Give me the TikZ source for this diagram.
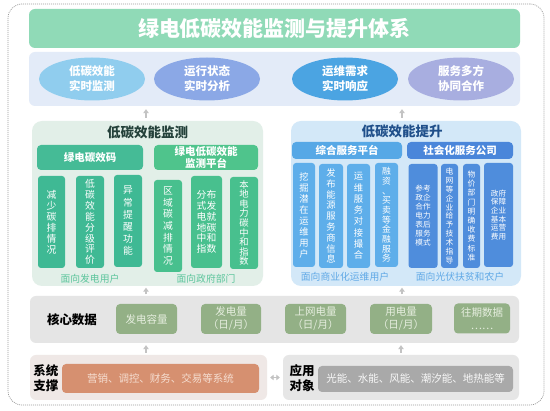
\documentclass[tikz,border=0pt]{standalone}
\usepackage{fontspec}
\setmainfont{Noto Sans CJK SC}
\usetikzlibrary{arrows.meta,shapes.geometric}
\definecolor{framegrey}{HTML}{9A9A9A}
\definecolor{titlegreen}{HTML}{90DAB7}
\definecolor{bandblue}{HTML}{E3EBF8}
\definecolor{ellA}{HTML}{90CDEE}
\definecolor{ellB}{HTML}{8BA8E6}
\definecolor{ellC}{HTML}{4BA4E2}
\definecolor{ellD}{HTML}{A8AEE0}
\definecolor{greenbg}{HTML}{E2EFE8}
\definecolor{greenhdA}{HTML}{45BB96}
\definecolor{greenhdB}{HTML}{4FC48C}
\definecolor{greencolA}{HTML}{3FB994}
\definecolor{greencolB}{HTML}{48C08E}
\definecolor{greenlabel}{HTML}{5CC59C}
\definecolor{greentitle}{HTML}{24413A}
\definecolor{bluebg}{HTML}{D3E8F8}
\definecolor{bluehdA}{HTML}{56A8E6}
\definecolor{bluehdB}{HTML}{4A86DA}
\definecolor{bluecolA}{HTML}{5EAEEA}
\definecolor{bluecolB}{HTML}{4F8DDC}
\definecolor{bluelabel}{HTML}{5FA8E6}
\definecolor{bluetitle}{HTML}{1F4F8A}
\definecolor{coregrey}{HTML}{E5E5E5}
\definecolor{databox}{HTML}{93B086}
\definecolor{datatext}{HTML}{E6EEDF}
\definecolor{supbg}{HTML}{EFE8E6}
\definecolor{orangebox}{HTML}{D69070}
\definecolor{orangetext}{HTML}{F5DDD0}
\definecolor{appgrey}{HTML}{E6E6E6}
\definecolor{greybox}{HTML}{A9A9A9}
\definecolor{arrowgrey}{HTML}{C3C3C3}
\tikzset{
  rbox/.style={rectangle, inner sep=0pt, align=center, rounded corners=4pt},
  ell/.style={ellipse, inner sep=0pt, minimum width=106, minimum height=43, align=center, text=white, font=\bfseries\fontsize{11.5}{15}\selectfont},
  hdr/.style={rbox, text=white, font=\bfseries\fontsize{10.5}{13}\selectfont},
  gcol/.style={rbox, rounded corners=3pt, text=white, minimum height=92},
  bcol/.style={rbox, rounded corners=3pt, text=white, minimum height=104},
  dbox/.style={rbox, fill=databox, text=datatext, minimum height=30, font=\fontsize{10.5}{13}\selectfont},
  uparr/.style={draw=arrowgrey, line width=1.7pt, -{Triangle[width=5.5pt,length=4pt]}, shorten <=1.5pt, shorten >=1.5pt},
  dblarr/.style={draw=arrowgrey, line width=1.7pt, {Triangle[width=5.5pt,length=3.5pt]}-{Triangle[width=5.5pt,length=3.5pt]}, shorten <=3pt, shorten >=3pt},
  ptitle/.style={inner sep=0pt, font=\bfseries\fontsize{13.5}{16}\selectfont},
  plabel/.style={inner sep=0pt, font=\fontsize{9.8}{12}\selectfont},
  sidelabel/.style={inner sep=0pt, align=center, font=\bfseries\fontsize{12.5}{15}\selectfont}
}
\begin{document}
\begin{tikzpicture}[x=1pt,y=-1pt]
\useasboundingbox (0,0) rectangle (550,411);
\fill[white] (0,0) rectangle (550,411);
% frame
\node[rectangle, draw=framegrey, line width=0.7pt, dash pattern=on 1pt off 1pt, rounded corners=14pt, minimum width=536, minimum height=401, inner sep=0pt] (frame) at (276,204.5) {};
% title
\node[rbox, rounded corners=6pt, fill=titlegreen, minimum width=491, minimum height=39, text=white, font=\bfseries\fontsize{21}{24}\selectfont] (title) at (274.5,28.5) {绿电低碳效能监测与提升体系};
% band with ellipses
\node[rbox, rounded corners=6pt, fill=bandblue, minimum width=491, minimum height=54] (band) at (274.5,79) {};
\node[ell, fill=ellA] (e1) at (92,79) {低碳效能\\实时监测};
\node[ell, fill=ellB] (e2) at (207,79) {运行状态\\实时分析};
\node[ell, fill=ellC] (e3) at (345,79) {运维需求\\实时响应};
\node[ell, fill=ellD] (e4) at (461,79) {服务多方\\协同合作};
% green panel
\node[rbox, rounded corners=10pt, fill=greenbg, minimum width=231, minimum height=165] (gp) at (147.5,203.5) {};
\node[ptitle, text=greentitle] (gt) at (147.5,132) {低碳效能监测};
\node[hdr, fill=greenhdA, minimum width=106, minimum height=25] (gh1) at (90,157.5) {绿电碳效码};
\node[hdr, fill=greenhdB, minimum width=104, minimum height=25, font=\bfseries\fontsize{10.5}{12.5}\selectfont] (gh2) at (206,157.5) {绿电低碳效能\\监测平台};
\node[gcol, fill=greencolA, minimum width=27, font=\fontsize{9.8}{11}\selectfont] (g1) at (51.5,222) {减\\少\\碳\\排\\情\\况};
\node[gcol, fill=greencolA, minimum width=28, font=\fontsize{9.8}{10.9}\selectfont] (g2) at (90,222) {低\\碳\\效\\能\\分\\级\\评\\价};
\node[gcol, fill=greencolA, minimum width=28, font=\fontsize{9.8}{12.2}\selectfont] (g3) at (128,221) {异\\常\\提\\醒\\功\\能};
\node[gcol, fill=greencolB, minimum width=28, font=\fontsize{9.8}{11.6}\selectfont] (g4) at (168,226) {区\\域\\碳\\减\\排\\情\\况};
\node[gcol, fill=greencolB, minimum width=31, font=\fontsize{9.8}{10.8}\selectfont] (g5) at (206.5,222) {分布\\式发\\电就\\地碳\\中和\\指数};
\node[gcol, fill=greencolB, minimum width=28, font=\fontsize{9.3}{9.6}\selectfont] (g6) at (244,223) {本\\地\\电\\力\\碳\\中\\和\\指\\数};
\node[plabel, text=greenlabel] (gl1) at (90,278.5) {面向发电用户};
\node[plabel, text=greenlabel] (gl2) at (206,278.5) {面向政府部门};
% blue panel
\node[rbox, rounded corners=10pt, fill=bluebg, minimum width=230, minimum height=165] (bp) at (406,203.5) {};
\node[ptitle, text=bluetitle] (bt) at (402,131) {低碳效能提升};
\node[hdr, fill=bluehdA, minimum width=110, minimum height=17] (bh1) at (347,150.5) {综合服务平台};
\node[hdr, fill=bluehdB, minimum width=106, minimum height=17] (bh2) at (460,150.5) {社会化服务公司};
\node[bcol, fill=bluecolA, minimum width=22, font=\fontsize{9.3}{11}\selectfont] (b1) at (304,215) {挖\\掘\\潜\\在\\运\\维\\用\\户};
\node[bcol, fill=bluecolA, minimum width=24, font=\fontsize{9.3}{10.8}\selectfont] (b2) at (331,216) {发\\布\\能\\源\\服\\务\\商\\信\\息};
\node[bcol, fill=bluecolA, minimum width=23, font=\fontsize{9.3}{11.3}\selectfont] (b3) at (358.5,216) {运\\维\\服\\务\\对\\接\\撮\\合};
\node[bcol, fill=bluecolA, minimum width=23, font=\fontsize{8.8}{9.7}\selectfont] (b4) at (386.5,215) {融\\资\\、\\买\\卖\\等\\金\\融\\服\\务};
\node[bcol, fill=bluecolB, minimum width=29, font=\fontsize{7.6}{9}\selectfont] (b5) at (423,216) {参考\\政企\\合作\\电力\\表后\\服务\\模式};
\node[bcol, fill=bluecolB, minimum width=17, font=\fontsize{7.8}{8.9}\selectfont] (b6) at (449.5,216) {电\\网\\等\\企\\业\\给\\予\\技\\术\\指\\导};
\node[bcol, fill=bluecolB, minimum width=17, font=\fontsize{7.8}{9.2}\selectfont] (b7) at (471.5,216) {物\\价\\部\\门\\明\\确\\收\\费\\标\\准};
\node[bcol, fill=bluecolB, minimum width=29, font=\fontsize{7.6}{8.7}\selectfont] (b8) at (498.5,215) {政府\\保障\\企业\\基本\\运营\\费用};
\node[plabel, text=bluelabel] (bl1) at (345,277) {面向商业化运维用户};
\node[plabel, text=bluelabel] (bl2) at (460,277) {面向光伏扶贫和农户};
% core data
\node[rbox, rounded corners=6pt, fill=coregrey, minimum width=489, minimum height=47] (core) at (274.5,319.5) {};
\node[sidelabel] (coret) at (72,319.5) {核心数据};
\node[dbox, minimum width=61] (d1) at (146.5,319) {发电容量};
\node[dbox, minimum width=60] (d2) at (231,319) {发电量\\（日/月）};
\node[dbox, minimum width=61] (d3) at (315.5,319) {上网电量\\（日/月）};
\node[dbox, minimum width=62] (d4) at (401,319) {用电量\\（日/月）};
\node[dbox, minimum width=56] (d5) at (482,318.5) {往期数据\\……};
% bottom panels
\node[rbox, rounded corners=6pt, fill=supbg, minimum width=237, minimum height=45] (lp) at (148.5,377.5) {};
\node[sidelabel, font=\bfseries\fontsize{12.5}{15}\selectfont] (lpt) at (46,378.5) {系统\\支撑};
\node[rbox, fill=orangebox, text=orangetext, minimum width=197, minimum height=29, font=\fontsize{10.5}{13}\selectfont] (ob) at (160.5,378.5) {营销、调控、财务、交易等系统};
\node[rbox, rounded corners=6pt, fill=appgrey, minimum width=236, minimum height=45] (rp) at (401,377.5) {};
\node[sidelabel] (rpt) at (302,378.5) {应用\\对象};
\node[rbox, fill=greybox, text=white!92!greybox, minimum width=195, minimum height=26, font=\fontsize{10.5}{13}\selectfont] (gb) at (415.5,379) {光能、水能、风能、潮汐能、地热能等};
% arrows
\draw[uparr, shorten <=3pt, shorten >=3pt] ([xshift=-1.5pt]gp.north) -- ([xshift=-1.5pt]gp.north |- band.south);
\draw[uparr, shorten <=3pt, shorten >=3pt] ([xshift=-4pt]bp.north) -- ([xshift=-4pt]bp.north |- band.south);
\draw[uparr] ([xshift=-1.5pt]gp.south |- core.north) -- ([xshift=-1.5pt]gp.south);
\draw[uparr] ([xshift=-4pt]bp.south |- core.north) -- ([xshift=-4pt]bp.south);
\draw[uparr, shorten <=2pt, shorten >=2pt] ([xshift=-2.5pt]lp.north) -- ([xshift=-2.5pt]lp.north |- core.south);
\draw[uparr, shorten <=2pt, shorten >=2pt] (rp.north) -- (rp.north |- core.south);
\draw[dblarr] (lp.east) -- (rp.west);
\end{tikzpicture}
\end{document}
